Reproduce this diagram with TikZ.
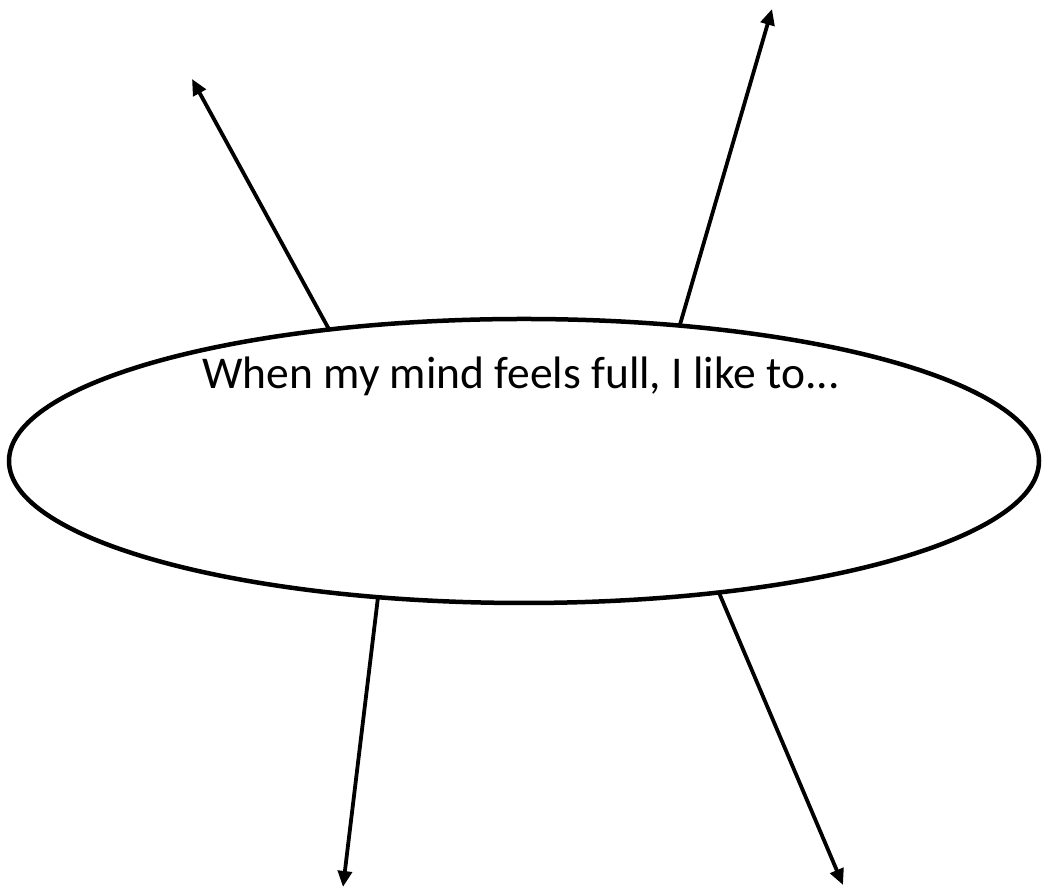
\documentclass[tikz,border=0pt]{standalone}
\usepackage{fontspec}
\setmainfont{Carlito}
\usetikzlibrary{shapes.geometric,arrows.meta}
\tikzset{
  bubble/.style={draw=black, line width=4.5pt, ellipse, minimum width=1030pt, minimum height=284pt, inner sep=0pt, outer sep=0pt},
  spoke/.style={draw=black, line width=3.8pt, -{Triangle[length=16pt,width=14pt]}},
  label/.style={font=\fontsize{45.5}{54}\selectfont, inner sep=0pt, anchor=base}
}
\begin{document}
\begin{tikzpicture}[x=1pt,y=1pt]
\useasboundingbox (0,0) rectangle (1042,890);
\node[bubble] (e) at (524,429) {};
\node[label] (t) at (521,501) {When my mind feels full, I like to...};
\coordinate (tl) at (192,811);
\coordinate (tr) at (772,881);
\coordinate (bl) at (343,3);
\coordinate (br) at (843,5);
\draw[spoke] (e.146) -- (tl);
\draw[spoke] (e.41.5) -- (tr);
\draw[spoke] (e.223.6) -- (bl);
\draw[spoke] (e.-34.5) -- (br);
\end{tikzpicture}
\end{document}
